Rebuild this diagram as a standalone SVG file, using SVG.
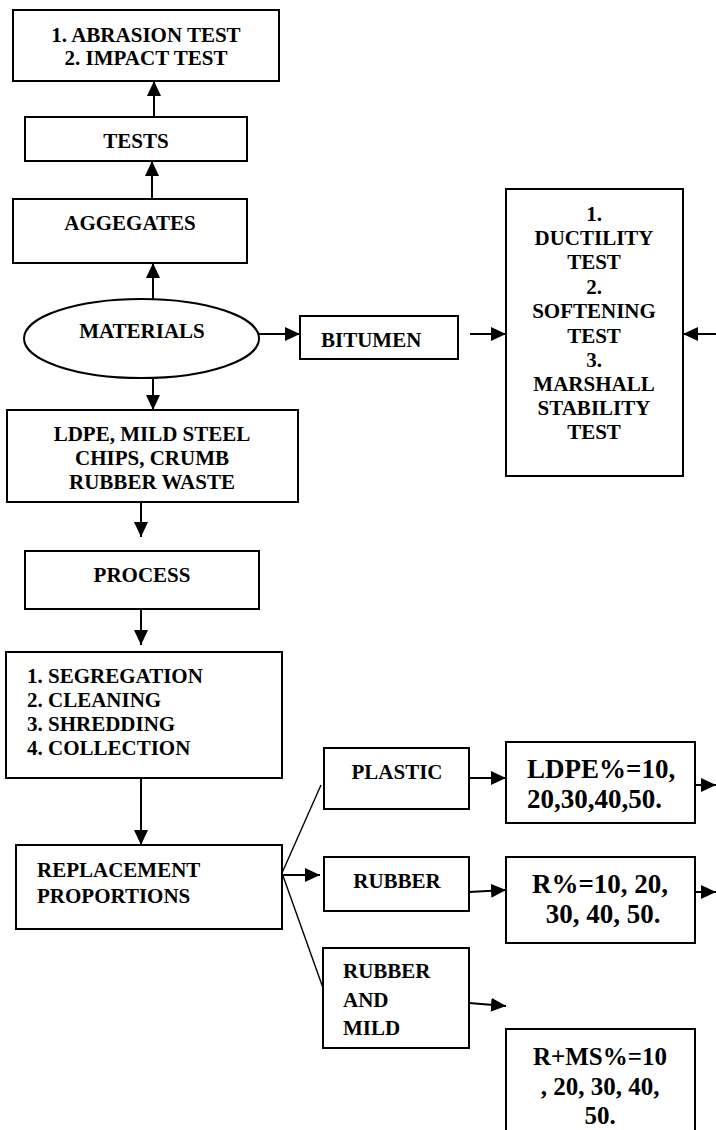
<svg xmlns="http://www.w3.org/2000/svg" width="716" height="1130" viewBox="0 0 716 1130">
<style>
.b{fill:#fff;stroke:#000;stroke-width:2}
.t{font-family:"Liberation Serif","Times New Roman",serif;font-weight:bold;font-size:21px;fill:#000}
.c{text-anchor:middle}
.big{font-size:27px}
.mid{font-size:25px}
.a{stroke:#000;stroke-width:2;fill:none;marker-end:url(#ah)}
.l{stroke:#000;stroke-width:1.4;fill:none}
</style>
<defs>
<marker id="ah" markerUnits="userSpaceOnUse" markerWidth="15" markerHeight="14" refX="15" refY="7" orient="auto">
<path d="M0,0 L15,7 L0,14 z" fill="#000"/>
</marker>
</defs>
<rect width="716" height="1130" fill="#fff"/>
<g id="connectors">
<line class="a" x1="154" y1="117" x2="154" y2="81"/>
<line class="a" x1="152" y1="199" x2="152" y2="161"/>
<line class="a" x1="153" y1="299" x2="153" y2="263"/>
<line class="a" x1="153" y1="378" x2="153" y2="410"/>
<line class="a" x1="259" y1="334" x2="300" y2="334"/>
<line class="a" x1="470" y1="334" x2="506" y2="334"/>
<line class="a" x1="716" y1="334" x2="683" y2="334"/>
<line class="a" x1="141" y1="502" x2="141" y2="537"/>
<line class="a" x1="141" y1="609" x2="141" y2="645"/>
<line class="a" x1="141" y1="778" x2="141" y2="845"/>
<line class="l" x1="282" y1="873" x2="321" y2="785"/>
<line class="l" x1="282" y1="873" x2="323" y2="988"/>
<line class="a" x1="282" y1="875" x2="320" y2="875"/>
<line class="a" x1="469" y1="778" x2="506" y2="778"/>
<line class="a" x1="695" y1="785" x2="716" y2="785"/>
<line class="a" x1="469" y1="892" x2="506" y2="890"/>
<line class="a" x1="695" y1="892" x2="716" y2="892"/>
<line class="a" x1="469" y1="1003" x2="506" y2="1006"/>
</g>
<g id="tests-list">
<rect class="b" x="13" y="10" width="266" height="71"/>
<text class="t c" x="146" y="42">1. ABRASION TEST</text>
<text class="t c" x="146" y="65">2. IMPACT TEST</text>
</g>
<g id="tests">
<rect class="b" x="25" y="117" width="222" height="44"/>
<text class="t c" x="136" y="148">TESTS</text>
</g>
<g id="aggregates">
<rect class="b" x="13" y="199" width="234" height="64"/>
<text class="t c" x="130" y="230">AGGEGATES</text>
</g>
<g id="materials">
<ellipse class="b" cx="141.5" cy="338.5" rx="117.5" ry="39.5"/>
<text class="t c" x="142" y="338">MATERIALS</text>
</g>
<g id="bitumen">
<rect class="b" x="300" y="316" width="158" height="43"/>
<text class="t" x="321" y="347">BITUMEN</text>
</g>
<g id="bitumen-tests">
<rect class="b" x="506" y="189" width="177" height="287"/>
<text class="t c" x="594" y="221">1.</text>
<text class="t c" x="594" y="245">DUCTILITY</text>
<text class="t c" x="594" y="269">TEST</text>
<text class="t c" x="594" y="294">2.</text>
<text class="t c" x="594" y="318">SOFTENING</text>
<text class="t c" x="594" y="343">TEST</text>
<text class="t c" x="594" y="367">3.</text>
<text class="t c" x="594" y="391">MARSHALL</text>
<text class="t c" x="594" y="415">STABILITY</text>
<text class="t c" x="594" y="439">TEST</text>
</g>
<g id="wastes">
<rect class="b" x="7" y="410" width="291" height="92"/>
<text class="t c" x="152" y="441">LDPE, MILD STEEL</text>
<text class="t c" x="152" y="465">CHIPS, CRUMB</text>
<text class="t c" x="152" y="489">RUBBER WASTE</text>
</g>
<g id="process">
<rect class="b" x="25" y="551" width="234" height="58"/>
<text class="t c" x="142" y="582">PROCESS</text>
</g>
<g id="steps">
<rect class="b" x="6" y="652" width="276" height="126"/>
<text class="t" x="27" y="683">1. SEGREGATION</text>
<text class="t" x="27" y="707">2. CLEANING</text>
<text class="t" x="27" y="731">3. SHREDDING</text>
<text class="t" x="27" y="755">4. COLLECTION</text>
</g>
<g id="replacement">
<rect class="b" x="16" y="845" width="266" height="84"/>
<text class="t" x="37" y="877">REPLACEMENT</text>
<text class="t" x="37" y="903">PROPORTIONS</text>
</g>
<g id="plastic">
<rect class="b" x="324" y="748" width="145" height="61"/>
<text class="t c" x="397" y="779">PLASTIC</text>
</g>
<g id="ldpe-pct">
<rect class="b" x="506" y="742" width="189" height="81"/>
<text class="t big" x="527" y="778">LDPE%=10,</text>
<text class="t big" x="527" y="808">20,30,40,50.</text>
</g>
<g id="rubber">
<rect class="b" x="324" y="857" width="145" height="54"/>
<text class="t c" x="397" y="888">RUBBER</text>
</g>
<g id="r-pct">
<rect class="b" x="506" y="857" width="189" height="86"/>
<text class="t big c" x="600" y="893">R%=10, 20,</text>
<text class="t big c" x="603" y="923">30, 40, 50.</text>
</g>
<g id="rubber-mild">
<rect class="b" x="323" y="948" width="146" height="100"/>
<text class="t" x="343" y="978">RUBBER</text>
<text class="t" x="343" y="1007">AND</text>
<text class="t" x="343" y="1035">MILD</text>
</g>
<g id="rms-pct">
<rect class="b" x="506" y="1029" width="189" height="110"/>
<text class="t mid c" x="600" y="1065">R+MS%=10</text>
<text class="t mid c" x="600" y="1095">, 20, 30, 40,</text>
<text class="t mid c" x="600" y="1124">50.</text>
</g>
</svg>
